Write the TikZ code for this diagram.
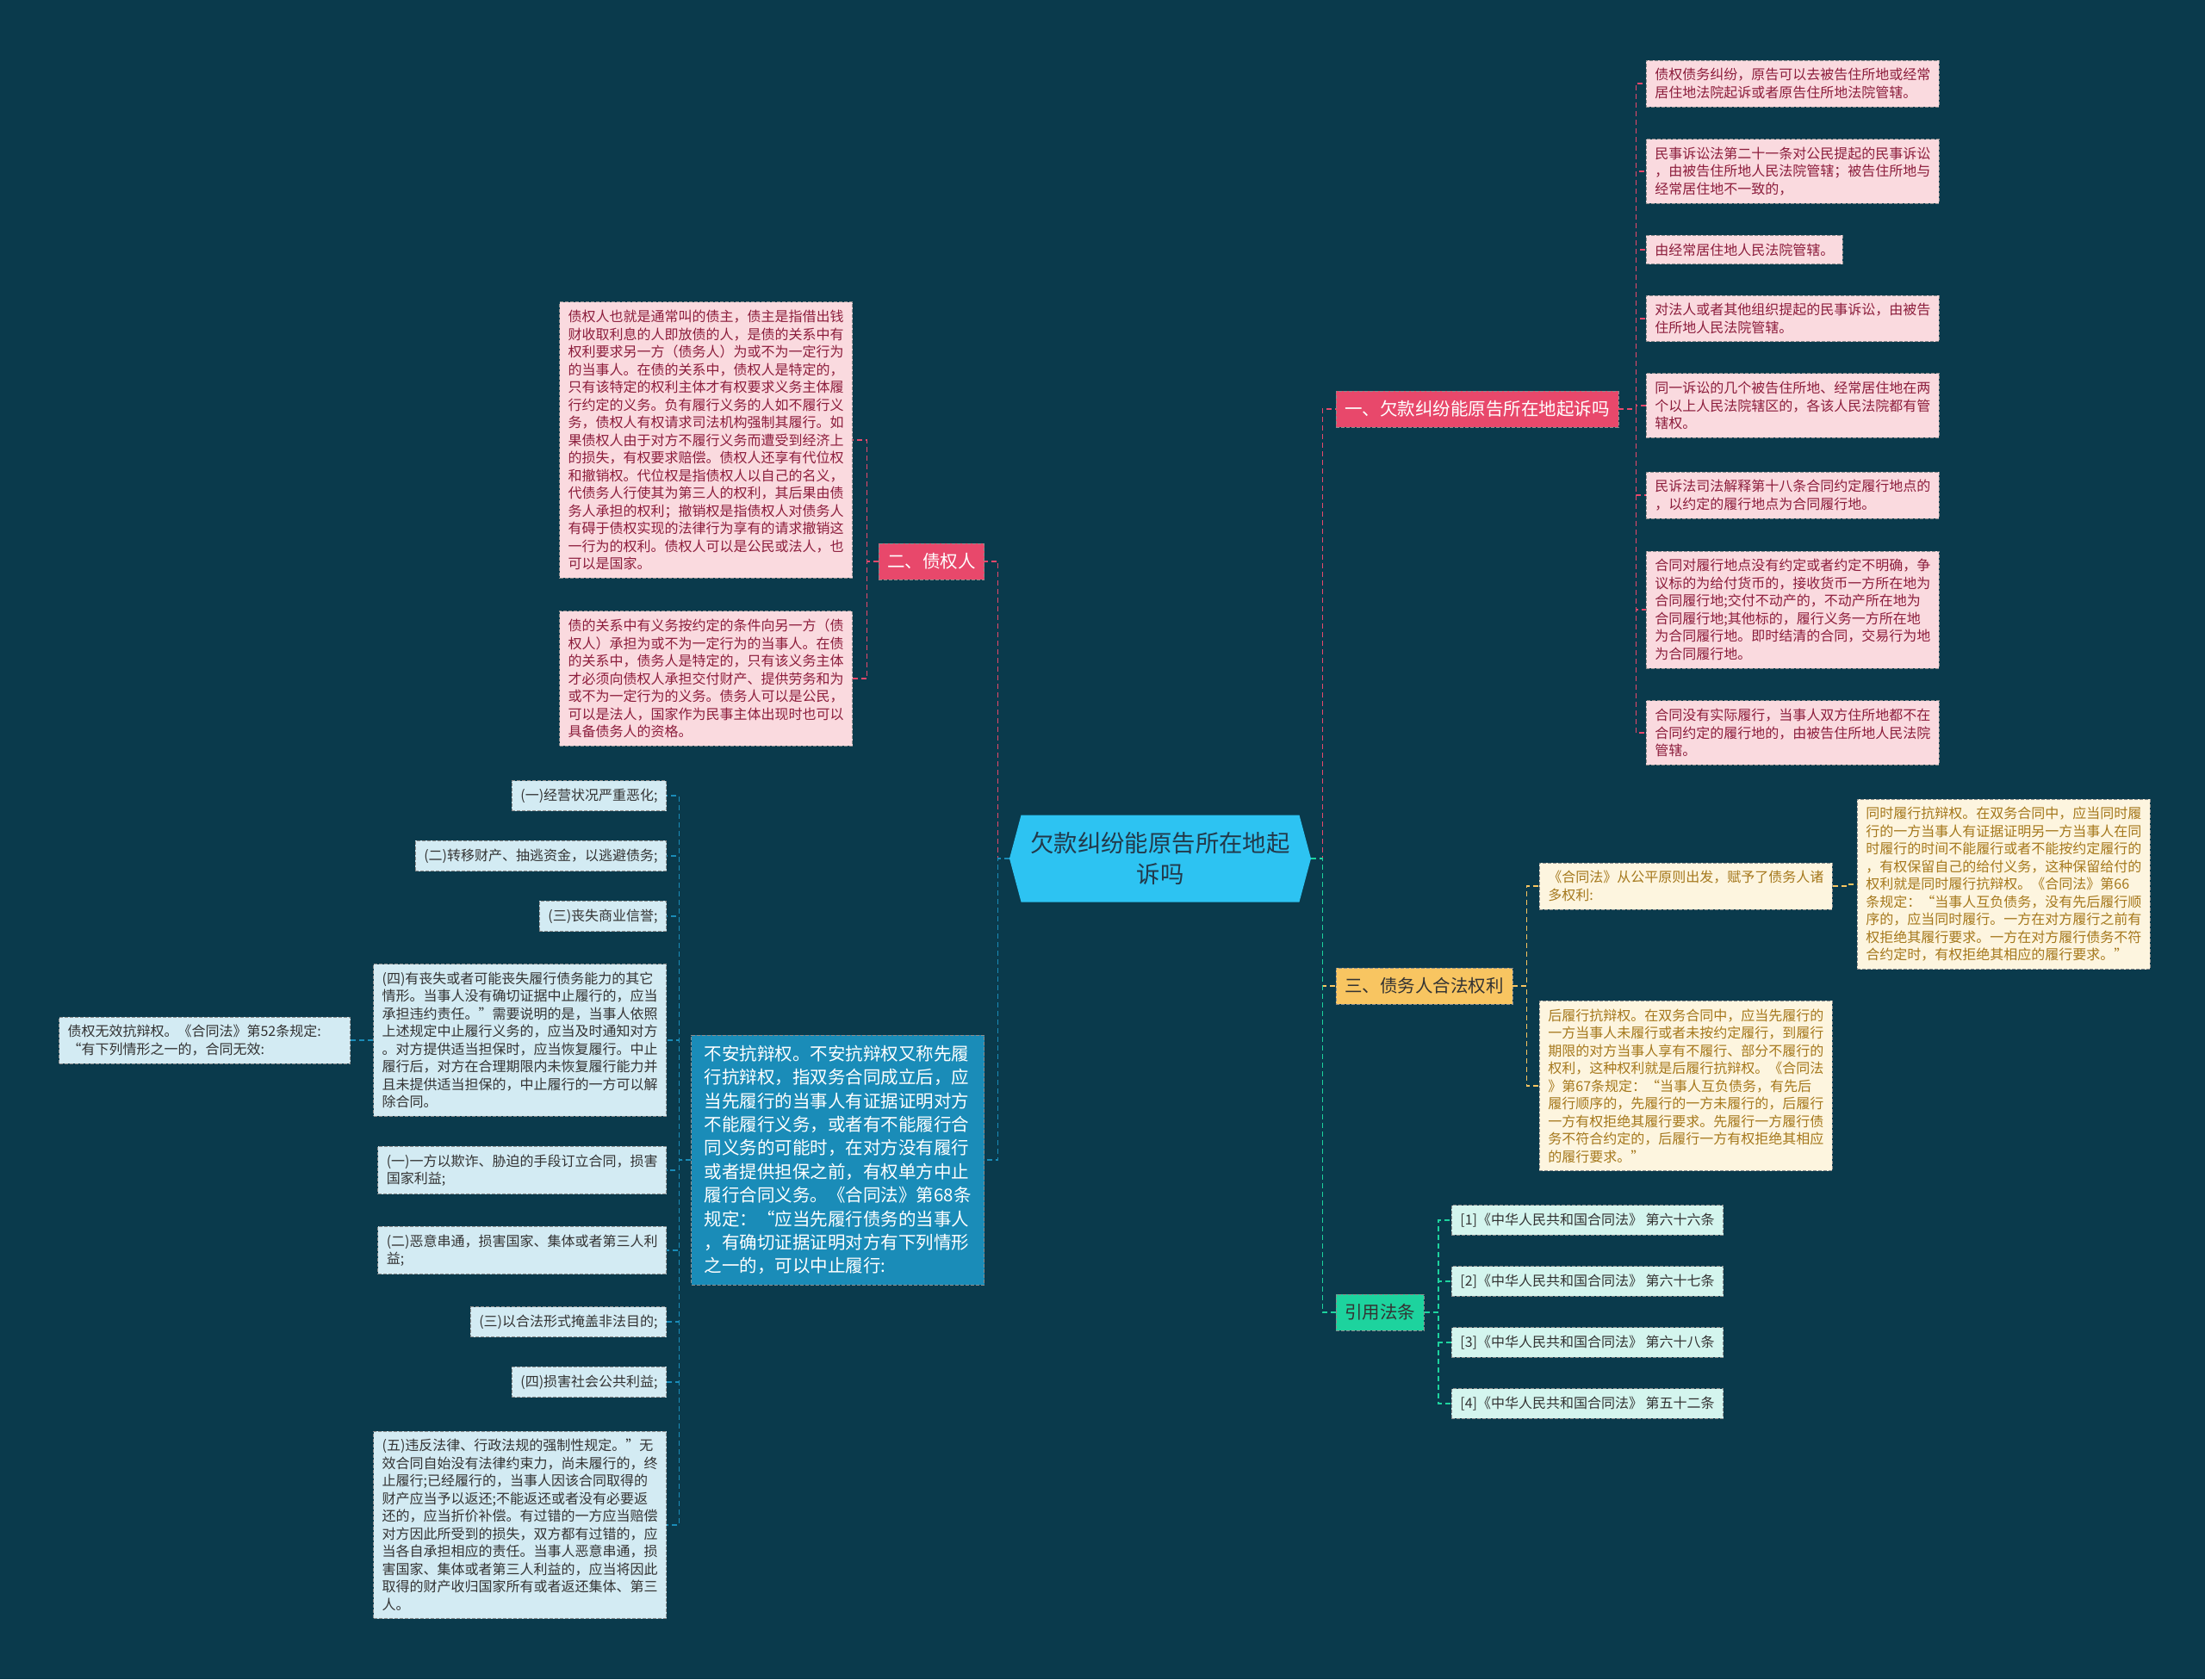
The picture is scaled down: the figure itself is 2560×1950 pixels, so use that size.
\documentclass[tikz,border=0pt]{standalone}
\usepackage{fontspec}
\setmainfont{Noto Sans CJK SC}
\usetikzlibrary{shapes.symbols}
\definecolor{bgBlue}{HTML}{0A3A4C}
\definecolor{rootCyan}{HTML}{2DC3F2}
\definecolor{rootText}{HTML}{22394A}
\definecolor{pRed}{HTML}{E8486B}
\definecolor{pPale}{HTML}{FADADF}
\definecolor{pText}{HTML}{8C1D3C}
\definecolor{yMain}{HTML}{F8C561}
\definecolor{yPale}{HTML}{FDF5DF}
\definecolor{yText}{HTML}{A5781C}
\definecolor{gMain}{HTML}{1DD39E}
\definecolor{gPale}{HTML}{D4F5EE}
\definecolor{bMain}{HTML}{1A8CB8}
\definecolor{bPale}{HTML}{D3EBF3}
\definecolor{dText}{HTML}{333333}
\newcommand{\leafsize}{\fontsize{8pt}{10.25pt}\selectfont}
\newcommand{\branchsize}{\fontsize{10.25pt}{13.7pt}\selectfont}
\newcommand{\rootsize}{\fontsize{13.7pt}{18pt}\selectfont}
\tikzset{
    root box/.style={signal, signal to=east and west, signal pointer angle=150, fill=rootCyan, text=rootText, font=\rootsize, align=center, minimum width=175pt, minimum height=50.5pt, inner sep=0pt},
    branch/.style={draw=black!45, dash pattern=on 2pt off 1pt, line width=0.4pt, font=\branchsize, inner xsep=5pt, inner ysep=0pt, minimum height=21pt},
    leaf/.style={draw=black!45, dash pattern=on 2pt off 1pt, line width=0.4pt, font=\leafsize, align=left, inner xsep=5pt, inner ysep=4.6pt},
    link/.style={dash pattern=on 3pt off 2pt, line width=0.7pt}
}

\begin{document}
\begin{tikzpicture}[x=0.5pt,y=-0.5pt]
\useasboundingbox (0,0) rectangle (2560,1950);
\fill[bgBlue] (0,0) rectangle (2560,1950);

\node[root box] (root) at (1347,997) {欠款纠纷能原告所在地起\\诉吗};

\node[branch, fill=pRed, text=white, anchor=west] (b1) at (1551,475) {一、欠款纠纷能原告所在地起诉吗};
\node[branch, fill=yMain, text=dText, anchor=west] (b3) at (1551,1145) {三、债务人合法权利};
\node[branch, fill=gMain, text=dText, anchor=west] (b4) at (1551,1524) {引用法条};
\node[branch, fill=pRed, text=white, anchor=east] (b2) at (1143,652) {二、债权人};
\node[branch, fill=bMain, text=white, anchor=east, align=left, inner xsep=7.5pt, inner ysep=6pt] (b5) at (1143,1347) {不安抗辩权。不安抗辩权又称先履\\行抗辩权，指双务合同成立后，应\\当先履行的当事人有证据证明对方\\不能履行义务，或者有不能履行合\\同义务的可能时，在对方没有履行\\或者提供担保之前，有权单方中止\\履行合同义务。《合同法》第68条\\规定：“应当先履行债务的当事人\\，有确切证据证明对方有下列情形\\之一的，可以中止履行:};

\node[leaf, fill=pPale, text=pText, anchor=west] (p1) at (1911,97) {债权债务纠纷，原告可以去被告住所地或经常\\居住地法院起诉或者原告住所地法院管辖。};
\node[leaf, fill=pPale, text=pText, anchor=west] (p2) at (1911,199) {民事诉讼法第二十一条对公民提起的民事诉讼\\，由被告住所地人民法院管辖；被告住所地与\\经常居住地不一致的，};
\node[leaf, fill=pPale, text=pText, anchor=west] (p3) at (1911,290) {由经常居住地人民法院管辖。};
\node[leaf, fill=pPale, text=pText, anchor=west] (p4) at (1911,370) {对法人或者其他组织提起的民事诉讼，由被告\\住所地人民法院管辖。};
\node[leaf, fill=pPale, text=pText, anchor=west] (p5) at (1911,471) {同一诉讼的几个被告住所地、经常居住地在两\\个以上人民法院辖区的，各该人民法院都有管\\辖权。};
\node[leaf, fill=pPale, text=pText, anchor=west] (p6) at (1911,575) {民诉法司法解释第十八条合同约定履行地点的\\，以约定的履行地点为合同履行地。};
\node[leaf, fill=pPale, text=pText, anchor=west] (p7) at (1911,708) {合同对履行地点没有约定或者约定不明确，争\\议标的为给付货币的，接收货币一方所在地为\\合同履行地;交付不动产的，不动产所在地为\\合同履行地;其他标的，履行义务一方所在地\\为合同履行地。即时结清的合同，交易行为地\\为合同履行地。};
\node[leaf, fill=pPale, text=pText, anchor=west] (p8) at (1911,851) {合同没有实际履行，当事人双方住所地都不在\\合同约定的履行地的，由被告住所地人民法院\\管辖。};

\node[leaf, fill=pPale, text=pText, anchor=east] (q1) at (990,511) {债权人也就是通常叫的债主，债主是指借出钱\\财收取利息的人即放债的人，是债的关系中有\\权利要求另一方（债务人）为或不为一定行为\\的当事人。在债的关系中，债权人是特定的，\\只有该特定的权利主体才有权要求义务主体履\\行约定的义务。负有履行义务的人如不履行义\\务，债权人有权请求司法机构强制其履行。如\\果债权人由于对方不履行义务而遭受到经济上\\的损失，有权要求赔偿。债权人还享有代位权\\和撤销权。代位权是指债权人以自己的名义，\\代债务人行使其为第三人的权利，其后果由债\\务人承担的权利；撤销权是指债权人对债务人\\有碍于债权实现的法律行为享有的请求撤销这\\一行为的权利。债权人可以是公民或法人，也\\可以是国家。};
\node[leaf, fill=pPale, text=pText, anchor=east] (q2) at (990,788) {债的关系中有义务按约定的条件向另一方（债\\权人）承担为或不为一定行为的当事人。在债\\的关系中，债务人是特定的，只有该义务主体\\才必须向债权人承担交付财产、提供劳务和为\\或不为一定行为的义务。债务人可以是公民，\\可以是法人，国家作为民事主体出现时也可以\\具备债务人的资格。};

\node[leaf, fill=bPale, text=dText, anchor=east] (u1) at (774,924) {(一)经营状况严重恶化;};
\node[leaf, fill=bPale, text=dText, anchor=east] (u2) at (774,994) {(二)转移财产、抽逃资金，以逃避债务;};
\node[leaf, fill=bPale, text=dText, anchor=east] (u3) at (774,1064) {(三)丧失商业信誉;};
\node[leaf, fill=bPale, text=dText, anchor=east] (u4) at (774,1208) {(四)有丧失或者可能丧失履行债务能力的其它\\情形。当事人没有确切证据中止履行的，应当\\承担违约责任。”需要说明的是，当事人依照\\上述规定中止履行义务的，应当及时通知对方\\。对方提供适当担保时，应当恢复履行。中止\\履行后，对方在合理期限内未恢复履行能力并\\且未提供适当担保的，中止履行的一方可以解\\除合同。};
\node[leaf, fill=bPale, text=dText, anchor=east] (u5) at (774,1359) {(一)一方以欺诈、胁迫的手段订立合同，损害\\国家利益;};
\node[leaf, fill=bPale, text=dText, anchor=east] (u6) at (774,1452) {(二)恶意串通，损害国家、集体或者第三人利\\益;};
\node[leaf, fill=bPale, text=dText, anchor=east] (u7) at (774,1535) {(三)以合法形式掩盖非法目的;};
\node[leaf, fill=bPale, text=dText, anchor=east] (u8) at (774,1605) {(四)损害社会公共利益;};
\node[leaf, fill=bPale, text=dText, anchor=east] (u9) at (774,1771) {(五)违反法律、行政法规的强制性规定。”无\\效合同自始没有法律约束力，尚未履行的，终\\止履行;已经履行的，当事人因该合同取得的\\财产应当予以返还;不能返还或者没有必要返\\还的，应当折价补偿。有过错的一方应当赔偿\\对方因此所受到的损失，双方都有过错的，应\\当各自承担相应的责任。当事人恶意串通，损\\害国家、集体或者第三人利益的，应当将因此\\取得的财产收归国家所有或者返还集体、第三\\人。};
\node[leaf, fill=bPale, text=dText, anchor=east, text width=159pt] (v1) at (407,1208) {债权无效抗辩权。《合同法》第52条规定:\\“有下列情形之一的，合同无效:};

\node[leaf, fill=yPale, text=yText, anchor=west] (y1) at (1787,1029) {《合同法》从公平原则出发，赋予了债务人诸\\多权利:};
\node[leaf, fill=yPale, text=yText, anchor=west] (y2) at (1787,1261) {后履行抗辩权。在双务合同中，应当先履行的\\一方当事人未履行或者未按约定履行，到履行\\期限的对方当事人享有不履行、部分不履行的\\权利，这种权利就是后履行抗辩权。《合同法\\》第67条规定：“当事人互负债务，有先后\\履行顺序的，先履行的一方未履行的，后履行\\一方有权拒绝其履行要求。先履行一方履行债\\务不符合约定的，后履行一方有权拒绝其相应\\的履行要求。”};
\node[leaf, fill=yPale, text=yText, anchor=west] (y3) at (2156,1027) {同时履行抗辩权。在双务合同中，应当同时履\\行的一方当事人有证据证明另一方当事人在同\\时履行的时间不能履行或者不能按约定履行的\\，有权保留自己的给付义务，这种保留给付的\\权利就是同时履行抗辩权。《合同法》第66\\条规定：“当事人互负债务，没有先后履行顺\\序的，应当同时履行。一方在对方履行之前有\\权拒绝其履行要求。一方在对方履行债务不符\\合约定时，有权拒绝其相应的履行要求。”};

\node[leaf, fill=gPale, text=dText, anchor=west] (c1) at (1685,1417) {[1]《中华人民共和国合同法》 第六十六条};
\node[leaf, fill=gPale, text=dText, anchor=west] (c2) at (1685,1488) {[2]《中华人民共和国合同法》 第六十七条};
\node[leaf, fill=gPale, text=dText, anchor=west] (c3) at (1685,1559) {[3]《中华人民共和国合同法》 第六十八条};
\node[leaf, fill=gPale, text=dText, anchor=west] (c4) at (1685,1630) {[4]《中华人民共和国合同法》 第五十二条};

\draw[link, pRed] (root.east) -- ++(6.5pt,0) |- (b1.west);
\draw[link, yMain] (root.east) -- ++(6.5pt,0) |- (b3.west);
\draw[link, gMain] (root.east) -- ++(6.5pt,0) |- (b4.west);
\draw[link, pRed] (root.west) -- ++(-6.5pt,0) |- (b2.east);
\draw[link, bMain] (root.west) -- ++(-6.5pt,0) |- (b5.east);

\foreach \n in {1,...,8} \draw[link, pRed] (b1.east) -- ++(10pt,0) |- (p\n.west);
\foreach \n in {1,2} \draw[link, pRed] (b2.west) -- ++(-6.5pt,0) |- (q\n.east);
\foreach \n in {1,...,9} \draw[link, bMain] (b5.west) -- ++(-7pt,0) |- (u\n.east);
\draw[link, bMain] (u4.west) -- (v1.east);
\foreach \n in {1,2} \draw[link, yMain] (b3.east) -- ++(8pt,0) |- (y\n.west);
\draw[link, yMain] (y1.east) -- ++(7.5pt,0) |- (y3.west);
\foreach \n in {1,...,4} \draw[link, gMain] (b4.east) -- ++(8pt,0) |- (c\n.west);
\end{tikzpicture}
\end{document}
